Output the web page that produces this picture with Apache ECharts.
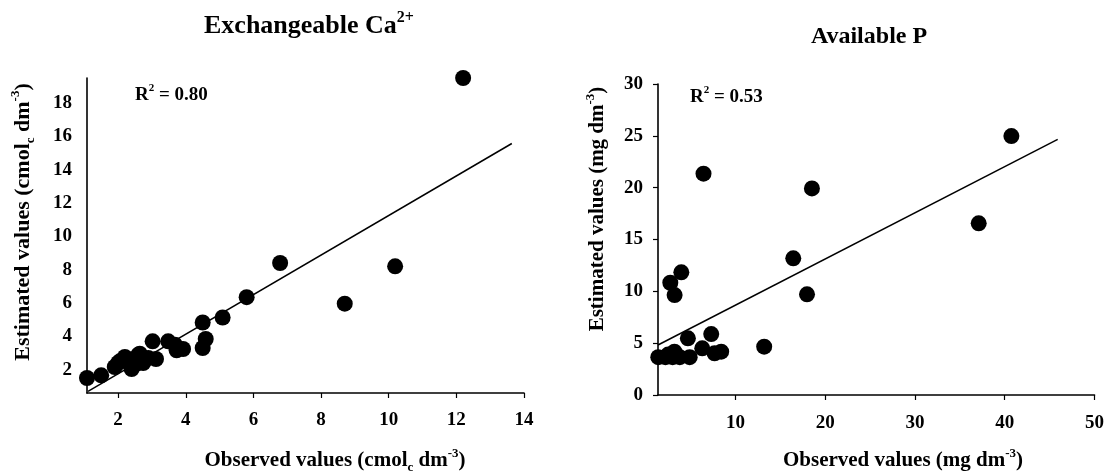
<!DOCTYPE html>
<html>
<head>
<meta charset="utf-8">
<script src="https://cdn.jsdelivr.net/npm/echarts@6/dist/echarts.min.js"></script>
<style>
  html, body { margin: 0; padding: 0; background: #fff; }
  #chart { width: 1107px; height: 474px; }
</style>
</head>
<body>
<div id="chart"></div>
<script>
// Exchangeable Ca2+ (cmolc dm-3): [observed, estimated]
const caPoints = [
  [1.08, 1.5], [1.5, 1.66], [1.9, 2.16], [2.0, 2.4], [2.05, 2.5], [2.2, 2.76],
  [2.25, 2.55], [2.4, 2.04], [2.5, 2.3], [2.6, 2.9], [2.64, 2.96], [2.74, 2.4],
  [2.7, 2.6], [2.89, 2.7], [3.02, 3.7], [3.12, 2.64], [3.48, 3.7], [3.68, 3.5],
  [3.73, 3.16], [3.92, 3.24], [4.5, 4.83], [4.59, 3.84], [4.5, 3.3], [5.09, 5.13],
  [5.8, 6.35], [6.79, 8.4], [8.7, 5.96], [10.19, 8.2], [12.2, 19.5]
]
const caFit = [[1.11, 0.7], [13.64, 15.57]]
const caXTicks = [2, 4, 6, 8, 10, 12, 14]
const caYTicks = [2, 4, 6, 8, 10, 12, 14, 16, 18]

// Available P (mg dm-3): [observed, estimated]
const pPoints = [
  [1.4, 3.65], [2.2, 3.65], [2.5, 3.9], [3.0, 3.65], [3.8, 3.65], [4.9, 3.65],
  [3.2, 4.18], [2.74, 10.83], [3.22, 9.64], [3.97, 11.83], [4.7, 5.47], [6.3, 4.5],
  [7.3, 5.88], [7.67, 4.02], [8.41, 4.18], [13.2, 4.66], [6.44, 21.35], [16.44, 13.18],
  [17.97, 9.71], [18.52, 19.93], [37.1, 16.56], [40.74, 24.98]
]
const pFit = [[1.37, 4.82], [45.9, 24.66]]
const pXTicks = [10, 20, 30, 40, 50]
const pYTicks = [0, 5, 10, 15, 20, 25, 30]

const FONT = 'Liberation Serif'
const black = '#000'

function axis(gridIndex, min, max, ticks, showTick, margin) {
  return {
    type: 'value',
    gridIndex: gridIndex,
    min: min,
    max: max,
    splitLine: { show: false },
    axisLine: { onZero: false, lineStyle: { color: black, width: 1.6 } },
    axisTick: { show: showTick, customValues: ticks, length: 5, lineStyle: { color: black, width: 1.2 } },
    axisLabel: {
      customValues: ticks, margin: margin, color: black,
      fontFamily: FONT, fontWeight: 'bold', fontSize: 19
    }
  }
}

// rich text styles for titles with sub/superscripts
function rich(size) {
  return {
    b: { fontFamily: FONT, fontWeight: 'bold', fontSize: size, fill: black, lineHeight: size + 6 },
    sup: { fontFamily: FONT, fontWeight: 'bold', fontSize: Math.round(size * 0.6), fill: black, verticalAlign: 'top', lineHeight: size + 6 },
    sub: { fontFamily: FONT, fontWeight: 'bold', fontSize: Math.round(size * 0.6), fill: black, verticalAlign: 'bottom', lineHeight: size + 6 }
  }
}

function label(text, x, y, size, opts) {
  opts = opts || {}
  return {
    type: 'text',
    x: x,
    y: y,
    rotation: opts.rotation || 0,
    style: {
      text: text,
      rich: rich(size),
      align: opts.align || 'center',
      verticalAlign: 'middle'
    }
  }
}

const chart = echarts.init(document.getElementById('chart'))
chart.setOption({
  animation: false,
  backgroundColor: '#fff',
  grid: [
    { left: 87, top: 78, width: 437, height: 315 },
    { left: 658, top: 84, width: 437, height: 311 }
  ],
  xAxis: [
    axis(0, 1.08, 14, caXTicks, true, 18),
    axis(1, 1.37, 50, pXTicks, true, 19)
  ],
  yAxis: [
    axis(0, 0.6, 19.5, caYTicks, false, 15),
    axis(1, 0, 30, pYTicks, true, 15)
  ],
  series: [
    {
      type: 'scatter', xAxisIndex: 0, yAxisIndex: 0, data: caPoints,
      symbolSize: 16, itemStyle: { color: black, opacity: 1 }, clip: false
    },
    {
      type: 'line', xAxisIndex: 0, yAxisIndex: 0, data: caFit,
      showSymbol: false, lineStyle: { color: black, width: 1.5 }
    },
    {
      type: 'scatter', xAxisIndex: 1, yAxisIndex: 1, data: pPoints,
      symbolSize: 16, itemStyle: { color: black, opacity: 1 }, clip: false
    },
    {
      type: 'line', xAxisIndex: 1, yAxisIndex: 1, data: pFit,
      showSymbol: false, lineStyle: { color: black, width: 1.5 }
    }
  ],
  graphic: [
    label('{b|Exchangeable Ca}{sup|2+}', 309, 26, 26),
    label('{b|Available P}', 869, 37, 24),
    label('{b|R}{sup|2}{b| = 0.80}', 135, 95, 19, { align: 'left' }),
    label('{b|R}{sup|2}{b| = 0.53}', 690, 97, 19, { align: 'left' }),
    label('{b|Observed values (cmol}{sub|c}{b| dm}{sup|-3}{b|)}', 335, 461, 21),
    label('{b|Observed values (mg dm}{sup|-3}{b|)}', 903, 461, 21),
    label('{b|Estimated values (cmol}{sub|c}{b| dm}{sup|-3}{b|)}', 23, 222, 22, { rotation: Math.PI / 2 }),
    label('{b|Estimated values (mg dm}{sup|-3}{b|)}', 598, 209, 21, { rotation: Math.PI / 2 })
  ]
})
</script>
</body>
</html>
